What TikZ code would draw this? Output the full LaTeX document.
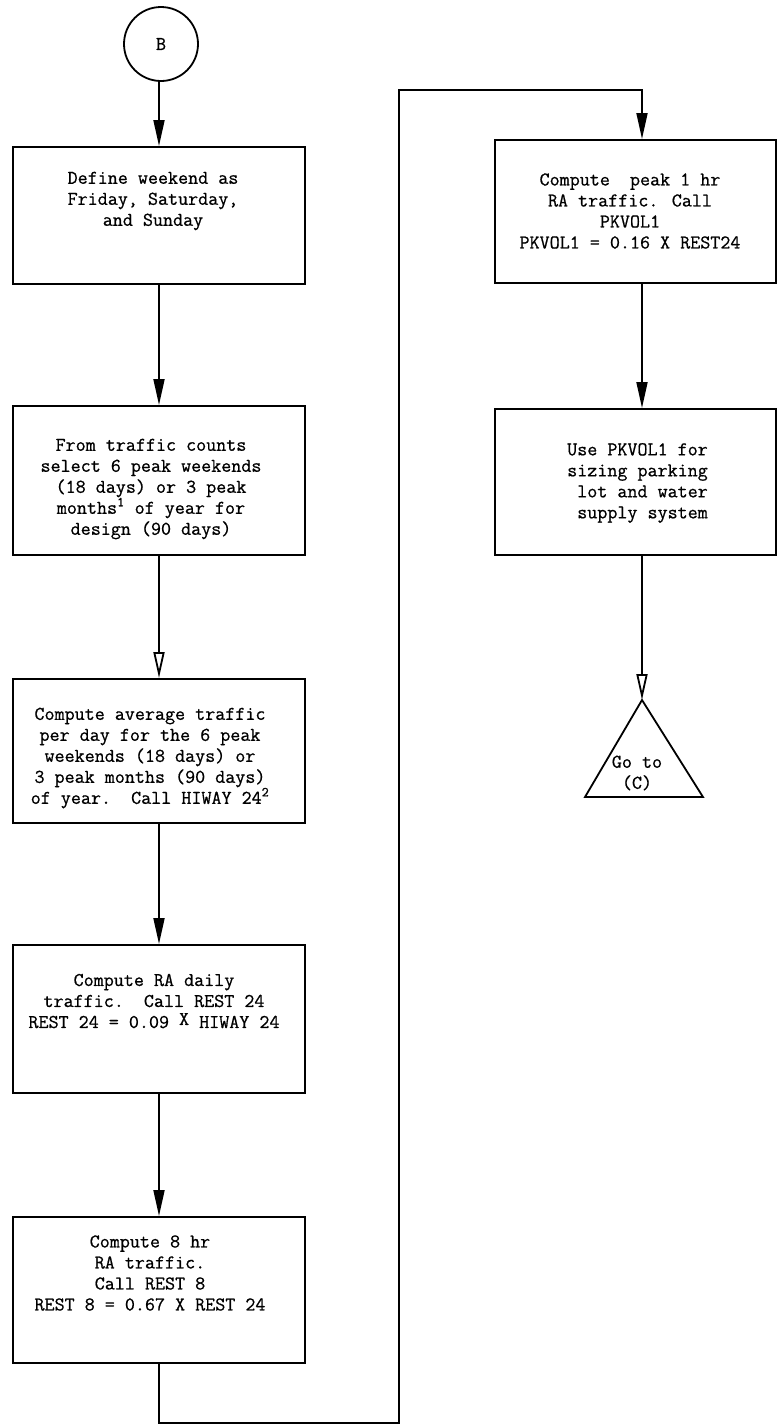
\documentclass[tikz,border=0pt]{standalone}
\usepackage{fontspec}
\usetikzlibrary{arrows.meta,calc}
% typewriter face, slightly heavier than the regular cut
\newfontfamily\typewriter{Latin Modern Mono}[FakeBold=0.7]
\begin{document}
\begin{tikzpicture}[x=1pt,y=-1pt,
  procbox/.style={draw, rectangle, line width=2pt, inner sep=0pt},
  txt/.style={font=\typewriter\fontsize{19.5}{21}\selectfont, align=center, inner sep=0pt},
  flow/.style={line width=1.8pt, -{Triangle[length=26pt,width=11pt]}},
  flowopen/.style={line width=1.8pt, -{Triangle[open,length=26pt,width=11pt]}}]

% page area
\fill[white] (0,0) rectangle (778,1425);
\useasboundingbox (0,0) rectangle (778,1425);

% connector entry point
\node[draw, circle, minimum size=74pt, inner sep=0pt, line width=1.8pt,
      font=\typewriter\fontsize{19.5}{21}\selectfont] (start) at (161,44) {B};

% left column of process boxes
\node[procbox, minimum width=292pt, minimum height=137pt] (b1) at (159,215.5) {};
\node[txt] (t1) at (153,201) {Define weekend as\\Friday, Saturday,\\and Sunday};

\node[procbox, minimum width=292pt, minimum height=149pt] (b2) at (159,480.5) {};
\node[txt] (t2) at (151,489) {From traffic counts\\select 6 peak weekends\\(18 days) or 3 peak\\months\textsuperscript{1} of year for\\design (90 days)};

\node[procbox, minimum width=292pt, minimum height=144pt] (b3) at (159,751) {};
\node[txt] (t3) at (150,758) {Compute average traffic\\per day for the 6 peak\\weekends (18 days) or\\3 peak months (90 days)\\of year.\ \ Call HIWAY 24\textsuperscript{2}};

\node[procbox, minimum width=292pt, minimum height=148pt] (b4) at (159,1019) {};
\node[txt] (t4) at (154,1001) {Compute RA daily\\traffic.\ \ Call REST 24\\REST 24 = 0.09 \raisebox{3pt}{X} HIWAY 24};

\node[procbox, minimum width=292pt, minimum height=146pt] (b5) at (159,1290) {};
\node[txt] (t5) at (150,1273) {Compute 8 hr\\RA traffic.\\Call REST 8\\REST 8 = 0.67 X REST 24};

% right column
\node[procbox, minimum width=281pt, minimum height=143pt] (b6) at (635.5,211.5) {};
\node[txt] (t6) at (630,211) {Compute\ \ peak 1 hr\\RA traffic. Call\\PKVOL1\\PKVOL1 = 0.16 X REST24};

\node[procbox, minimum width=281pt, minimum height=146pt] (b7) at (635.5,482) {};
\node[txt, align=right, anchor=east] (t7) at (708,483) {Use PKVOL1 for\\sizing parking\\lot and water\\supply system};

% off-page connector
\coordinate (tapex) at (642,700);
\coordinate (tl) at (585,797);
\coordinate (tr) at (703,797);
\draw[line width=1.8pt, line join=miter] (tapex) -- (tl) -- (tr) -- cycle;
\node[txt] (tgo) at (637,773) {Go to\\(C)};

% routing points of the loop between the columns
\coordinate (lb) at (399,1423);
\coordinate (lt) at (399,90);
\coordinate (rc) at (642,90);

% flow lines
\draw[flow] (start.south -| b1.north) -- (b1.north);
\draw[flow] (b1.south) -- (b2.north);
\draw[flowopen] (b2.south) -- (b3.north);
\draw[flow] (b3.south) -- (b4.north);
\draw[flow] (b4.south) -- (b5.north);
\draw[flow] (b5.south) -- (b5.south |- lb) -- (lb) -- (lt) -- (rc) -- (b6.north -| rc);
\draw[flow] (b6.south -| rc) -- (b7.north -| rc);
\draw[flowopen] (b7.south -| rc) -- (tapex);
\end{tikzpicture}
\end{document}
